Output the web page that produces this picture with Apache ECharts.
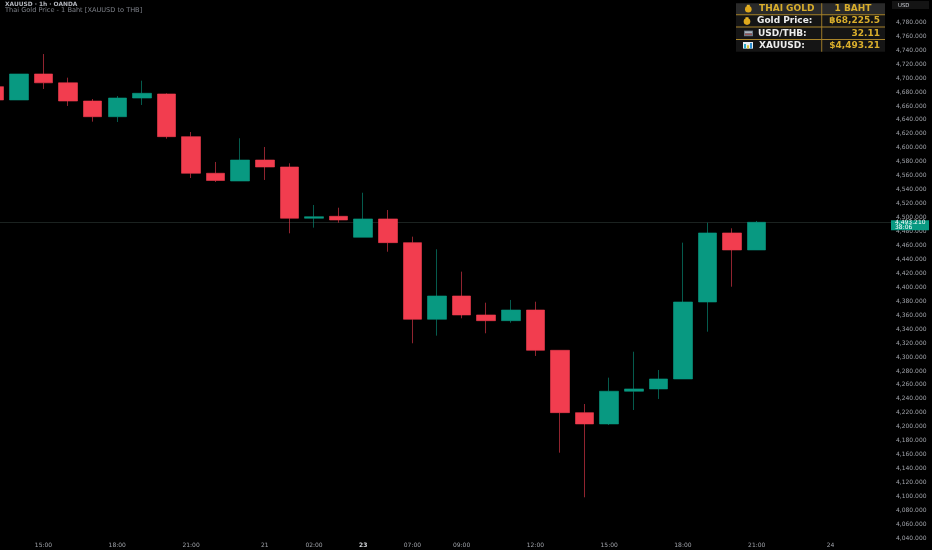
<!DOCTYPE html>
<html>
<head>
<meta charset="utf-8">
<style>html,body{margin:0;padding:0;background:#000;overflow:hidden;width:932px;height:550px}#c{position:absolute;left:-18px;top:0;width:950px;height:550px}</style>
<script src="https://cdn.jsdelivr.net/npm/echarts@6/dist/echarts.min.js"></script>
</head>
<body>
<div id="c"></div>
<script>
const xLabels = ['','','15:00','','','18:00','','','21:00','','','21','','02:00','','23','','07:00','','09:00','','','12:00','','','15:00','','','18:00','','','21:00','','','24','',''];
const opens  = [4687.7,4668.6,4705.9,4693.2,4667.1,4644.6,4671.4,4677.2,4616.0,4563.5,4552.4,4582.5,4572.5,4499.0,4501.8,4471.7,4498.0,4464.0,4354.1,4387.5,4360.3,4352.1,4367.4,4309.6,4220.2,4204.0,4250.9,4254.2,4268.5,4378.9,4477.9,4453.5];
const closes = [4668.6,4705.9,4693.2,4667.1,4644.6,4671.4,4678.2,4616.0,4563.5,4553.1,4582.5,4572.5,4499.0,4501.2,4496.5,4498.0,4464.0,4354.1,4387.5,4360.3,4352.1,4367.4,4309.6,4220.2,4204.0,4250.9,4254.2,4268.5,4378.9,4477.9,4453.5,4493.2];
const lows   = [4660.0,4668.6,4684.4,4660.0,4637.5,4637.0,4661.4,4613.1,4556.7,4551.0,4552.4,4553.9,4477.4,4485.5,4492.6,4471.7,4451.0,4319.7,4330.6,4355.5,4334.0,4349.2,4301.5,4162.8,4098.8,4202.5,4224.0,4239.8,4268.5,4336.3,4400.8,4453.5];
const highs  = [4695.0,4705.9,4734.5,4700.6,4670.0,4674.3,4696.3,4678.2,4622.7,4579.7,4613.7,4601.2,4577.8,4518.0,4514.1,4535.6,4510.8,4472.6,4454.5,4422.4,4377.9,4381.8,4379.3,4309.6,4232.6,4270.4,4307.6,4281.4,4464.0,4492.6,4484.6,4495.1];
const lastPrice = 4493.21;
const priceTag = ['4,493.210','38:06'];
const titleLines = ['XAUUSD · 1h · OANDA','Thai Gold Price - 1 Baht [XAUUSD to THB]'];
const tableLeft = ['THAI GOLD','Gold Price:','USD/THB:','XAUUSD:'];
const tableRight = ['1 BAHT','฿68,225.5','32.11','$4,493.21'];
const currency = 'USD';

const FONT = '"DejaVu Sans", sans-serif';
const GOLD = '#d9ae2c', LINE = '#a9842a';
const SHIFT = 18;
const rowY = [3.3,14.7,27,39.5,51.7];
const g = [];
function rect(x,y,w,h,fill,z){ g.push({type:'rect',shape:{x:x+SHIFT,y,width:w,height:h},style:{fill},z:z||100,silent:true}); }
function text(x,y,t,o){ g.push({type:'text',x:x+SHIFT,y,z:103,silent:true,style:Object.assign({text:t,font:'bold 8px '+FONT,fill:'#eee',textVerticalAlign:'middle',textBaseline:'middle'},o||{})}); }
// title
text(5,4.6,titleLines[0],{font:'600 5.9px '+FONT,fill:'#b4b7be'});
text(5,10.6,titleLines[1],{font:'6.6px '+FONT,fill:'#7d8088'});
// currency box
rect(892,1,37,8,'#141414');
text(898,5.3,currency,{font:'5.4px '+FONT,fill:'#c9ccd3'});
// table
rect(736,rowY[0],149,rowY[1]-rowY[0],'#2a2a2a');
rect(736,rowY[1],149,rowY[4]-rowY[1],'#151515');
[1,2,3].forEach(i=>rect(736,rowY[i]-0.4,149,0.9,LINE,101));
rect(821.3,rowY[0],0.9,rowY[4]-rowY[0],LINE,101);
const lx=[759,757,758,759];
tableLeft.forEach((t,i)=>{
  const y=[8.7,21,33.4,45.4][i];
  text(lx[i],y,t,{fill:i===0?GOLD:'#ececec',font:'bold 9px '+FONT});
  if(i===0) text(853,y,tableRight[i],{fill:GOLD,textAlign:'center',align:'center',font:'bold 9px '+FONT});
  else text(880,y,tableRight[i],{fill:GOLD,textAlign:'right',align:'right',font:'bold 9px '+FONT});
});
// icons
function bag(cx,cy){ g.push({type:'circle',shape:{cx:cx+SHIFT,cy:cy+0.8,r:3.3},style:{fill:'#e0a91c'},z:102,silent:true}); rect(cx-1.5,cy-3.6,3,2,'#e6b52a',102); }
bag(748.3,8.4); bag(747,20.8);
rect(744,30.6,9,5.6,'#6d7a86',102); rect(745,31.6,7,1.1,'#c9d2da',102); rect(745,33.7,7,1.1,'#a04a4a',102);
rect(743,42,10,6.6,'#e8eef2',102); rect(744,44,2,4.6,'#2aa8c8',102); rect(747,45.3,2,3.3,'#d8c53a',102); rect(750,43,2,5.6,'#2f8fd0',102);

const chart = echarts.init(document.getElementById('c'),null,{renderer:'canvas'});
chart.setOption({
  animation:false,
  backgroundColor:'#000',
  grid:{left:0,right:40,top:22.3,bottom:11.7,containLabel:false},
  xAxis:{type:'category',data:xLabels,boundaryGap:true,
    axisLine:{show:false},axisTick:{show:false},splitLine:{show:false},
    axisLabel:{interval:0,margin:4.5,fontSize:6,fontFamily:'"DejaVu Sans"',color:'#a0a3aa',
      hideOverlap:false,showMinLabel:true,showMaxLabel:true,
      formatter:v=>v==='23'?'{b|23}':v,
      rich:{b:{fontSize:6,fontWeight:'bold',fontFamily:'"DejaVu Sans"',color:'#d8dade'}}}},
  yAxis:{type:'value',position:'right',min:4040,max:4780,interval:20,scale:true,
    axisLine:{show:false},axisTick:{show:false},splitLine:{show:false},
    axisLabel:{margin:4,fontSize:6,fontFamily:'"DejaVu Sans"',color:'#a0a3aa',
      formatter:v=>v.toLocaleString('en-US',{minimumFractionDigits:3,maximumFractionDigits:3})}},
  series:[{
    type:'candlestick',
    barWidth:19,
    clip:false,
    z:3,
    data:opens.map((o,i)=>[o,closes[i],lows[i],highs[i]]),
    itemStyle:{color:'#089981',color0:'#f23d4f',borderColor:'#089981',borderColor0:'#f23d4f',borderWidth:0.6},
    markLine:{silent:true,symbol:'none',animation:false,z:1,
      lineStyle:{color:'#1b2220',width:1,type:'solid'},
      label:{show:true,position:'end',formatter:priceTag.join('\n'),color:'#fff',fontSize:6,lineHeight:5,
        fontFamily:'"DejaVu Sans"',backgroundColor:'#089981',padding:[0,4,0,4],width:30,align:'left',offset:[-1,3],distance:0},
      data:[{yAxis:lastPrice}]}
  }],
  graphic:{elements:g}
});
</script>
</body>
</html>
